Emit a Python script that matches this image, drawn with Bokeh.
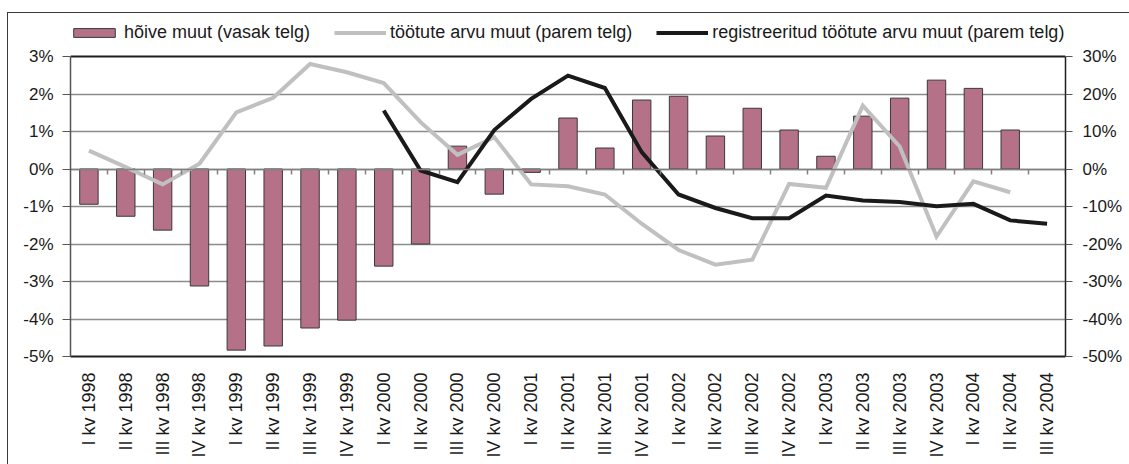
import math
from bokeh.plotting import figure
from bokeh.models import (Range1d, LinearAxis, FixedTicker, PrintfTickFormatter,
                          Legend, LegendItem, ColumnDataSource, Grid)
from bokeh.embed import file_html
from bokeh.resources import INLINE

NaN = float("nan")

categories = [
    "I kv 1998", "II kv 1998", "III kv 1998", "IV kv 1998",
    "I kv 1999", "II kv 1999", "III kv 1999", "IV kv 1999",
    "I kv 2000", "II kv 2000", "III kv 2000", "IV kv 2000",
    "I kv 2001", "II kv 2001", "III kv 2001", "IV kv 2001",
    "I kv 2002", "II kv 2002", "III kv 2002", "IV kv 2002",
    "I kv 2003", "II kv 2003", "III kv 2003", "IV kv 2003",
    "I kv 2004", "II kv 2004", "III kv 2004",
]

# hõive muut (vasak telg), %
employment_change = [
    -0.94, -1.26, -1.63, -3.12,
    -4.83, -4.72, -4.24, -4.03,
    -2.59, -2.00, 0.61, -0.67,
    -0.09, 1.36, 0.56, 1.84,
    1.94, 0.88, 1.62, 1.04,
    0.34, 1.41, 1.89, 2.37,
    2.15, 1.04, NaN,
]

# töötute arvu muut (parem telg), %
unemployed_change = [
    4.9, 0.5, -4.1, 1.4,
    15.1, 19.0, 28.0, 25.8,
    22.9, 12.5, 3.8, 8.5,
    -4.1, -4.6, -6.8, -14.6,
    -21.6, -25.5, -24.2, -4.0,
    -5.0, 16.9, 6.0, -18.0,
    -3.3, -6.2, NaN,
]

# registreeritud töötute arvu muut (parem telg), %
registered_change = [
    NaN, NaN, NaN, NaN,
    NaN, NaN, NaN, NaN,
    15.6, -0.4, -3.5, 10.4,
    18.7, 24.9, 21.6, 4.5,
    -6.8, -10.4, -13.1, -13.1,
    -7.1, -8.4, -8.8, -9.9,
    -9.3, -13.7, -14.6,
]

left_ticks = [-5, -4, -3, -2, -1, 0, 1, 2, 3]
right_ticks = [-50, -40, -30, -20, -10, 0, 10, 20, 30]

legend_labels = [
    "hõive muut (vasak telg)",
    "töötute arvu muut (parem telg)",
    "registreeritud töötute arvu muut (parem telg)",
]

FONT = "Liberation Sans"
n = len(categories)
xs = [i + 0.5 for i in range(n)]
src = ColumnDataSource(dict(x=xs, emp=employment_change,
                            unemp=unemployed_change, reg=registered_change))

# layout (pixels); the figure box starts inside an outer border at page (7, 12)
PLOT_W, PLOT_H = 995, 300          # inner plot area
LEGEND_BAND = 43                   # band above the plot area, inside the frame
BORDER_L, BORDER_R, BORDER_T, BORDER_B = 62, 64, 0, 108

px_yl = PLOT_H / (left_ticks[-1] - left_ticks[0])
px_yr = PLOT_H / (right_ticks[-1] - right_ticks[0])
y_top_l = left_ticks[-1] + LEGEND_BAND / px_yl
y_top_r = right_ticks[-1] + LEGEND_BAND / px_yr

p = figure(frame_width=PLOT_W, frame_height=PLOT_H + LEGEND_BAND,
           min_border_left=BORDER_L, min_border_right=BORDER_R,
           min_border_top=BORDER_T, min_border_bottom=BORDER_B,
           x_range=Range1d(0, n), y_range=Range1d(left_ticks[0], y_top_l),
           output_backend="svg", toolbar_location=None,
           x_axis_location=None, y_axis_location=None)
p.margin = (12, 0, 0, 7)
p.styles = {"border-top": "1px solid #3a3a3a", "border-left": "1px solid #3a3a3a"}
p.xgrid.visible = False
p.ygrid.visible = False
p.extra_y_ranges = {"right": Range1d(right_ticks[0], y_top_r)}
p.background_fill_color = "white"
p.border_fill_color = "white"
p.outline_line_color = None

grid = Grid(dimension=1, ticker=FixedTicker(ticks=left_ticks[1:-1]),
            grid_line_color="#8c8c8c", grid_line_width=1.5)
p.add_layout(grid)
top_line = Grid(dimension=1, ticker=FixedTicker(ticks=[left_ticks[-1]]),
                bounds=(left_ticks[0] - 10, left_ticks[-1] + 10),
                grid_line_color="#1e1e1e", grid_line_width=2)
p.add_layout(top_line)

bars = p.vbar(x="x", top="emp", bottom=0, width=0.5, source=src,
              fill_color="#B57187", line_color="#3a3a3a", line_width=1)
gray = p.line("x", "unemp", source=src, y_range_name="right",
              line_color="#C0C0C0", line_width=4, line_join="miter")
black = p.line("x", "reg", source=src, y_range_name="right",
               line_color="#1a1a1a", line_width=4, line_join="miter")

def style_axis(ax, size="17px"):
    ax.major_label_text_font = FONT
    ax.major_label_text_font_size = size
    ax.major_label_text_color = "#1a1a1a"
    ax.minor_tick_line_color = None

left = LinearAxis(ticker=FixedTicker(ticks=left_ticks), bounds=(left_ticks[0], left_ticks[-1]),
                  formatter=PrintfTickFormatter(format="%d%%"))
style_axis(left)
left.axis_line_color = "#555555"
left.axis_line_width = 1.5
left.major_tick_line_color = "#555555"
left.major_tick_in = 0
left.major_tick_out = 8
left.major_label_standoff = 9
p.add_layout(left, "left")

right = LinearAxis(y_range_name="right", ticker=FixedTicker(ticks=right_ticks),
                   bounds=(right_ticks[0], right_ticks[-1]),
                   formatter=PrintfTickFormatter(format="%d%%"))
style_axis(right)
right.axis_line_color = "#1e1e1e"
right.axis_line_width = 1.5
right.major_tick_line_color = "#555555"
right.major_tick_in = 0
right.major_tick_out = 7
right.major_label_standoff = 10
p.add_layout(right, "right")

bottom = LinearAxis(ticker=FixedTicker(ticks=xs),
                    major_label_overrides={x: c for x, c in zip(xs, categories)})
style_axis(bottom, "18px")
bottom.major_label_orientation = math.pi / 2
bottom.axis_line_color = "#1e1e1e"
bottom.axis_line_width = 2
bottom.major_tick_line_color = None
bottom.major_tick_in = 0
bottom.major_tick_out = 0
bottom.major_label_standoff = 16
p.add_layout(bottom, "below")

boundaries = list(range(1, n + 1))
zero_axis = LinearAxis(fixed_location=0, ticker=FixedTicker(ticks=boundaries),
                       major_label_overrides={b: "" for b in boundaries})
zero_axis.axis_line_color = "#808080"
zero_axis.axis_line_width = 1.5
zero_axis.major_tick_line_color = "#808080"
zero_axis.major_tick_line_width = 1.5
zero_axis.major_tick_in = 0
zero_axis.major_tick_out = 5
zero_axis.major_label_standoff = 0
zero_axis.minor_tick_line_color = None
p.add_layout(zero_axis, "below")

legend = Legend(items=[LegendItem(label=legend_labels[0], renderers=[bars]),
                       LegendItem(label=legend_labels[1], renderers=[gray]),
                       LegendItem(label=legend_labels[2], renderers=[black])],
                location=(-2, PLOT_H + 13), orientation="horizontal",
                glyph_width=52, glyph_height=11, label_height=11,
                label_standoff=4, spacing=24,
                padding=0, margin=0, border_line_alpha=0, background_fill_alpha=0,
                label_text_font=FONT, label_text_font_size="18px",
                label_text_color="#1a1a1a")
p.add_layout(legend, "center")

open("out.html", "w").write(file_html(p, INLINE))
